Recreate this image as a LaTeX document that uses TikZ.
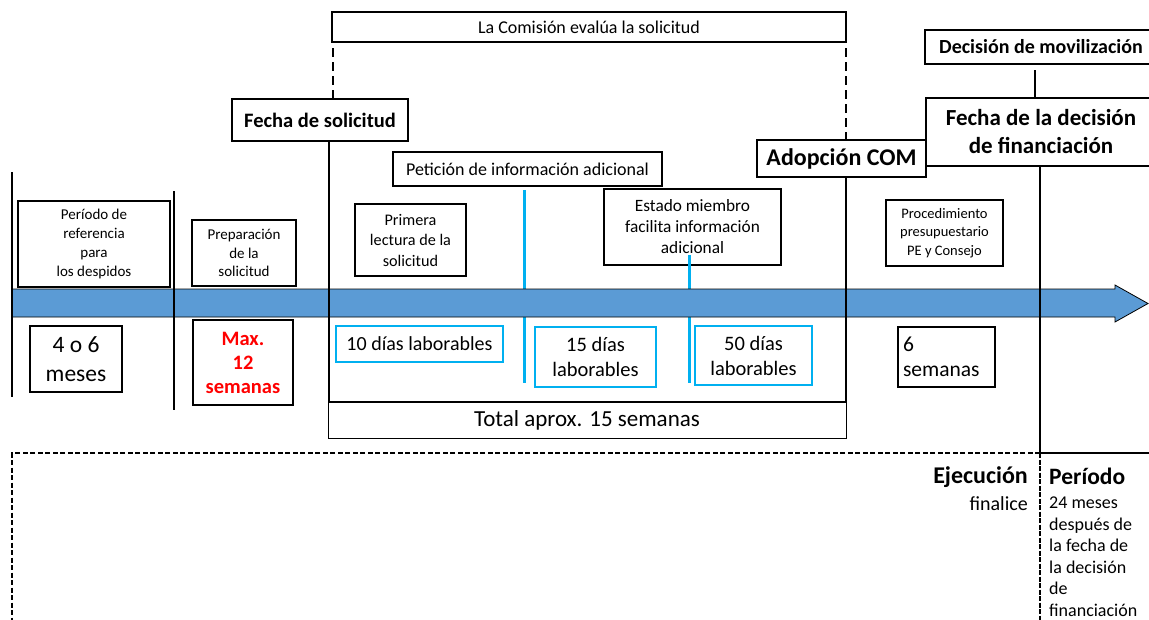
\documentclass[tikz,border=0pt]{standalone}
\usepackage{fontspec}
\setmainfont{Carlito}
\usepackage{xcolor}
\usetikzlibrary{positioning}
\definecolor{bandblue}{RGB}{91,155,213}
\definecolor{infocyan}{RGB}{0,176,240}
\newcommand{\fsz}[2]{\fontsize{#1}{#2}\selectfont}

\begin{document}
\begin{tikzpicture}[x=1pt,y=-1pt,
        every node/.style={inner sep=0pt, align=center},
        box/.style={draw, line width=1.2pt},
        cbox/.style={draw=infocyan, line width=1.4pt},
        thickbar/.style={line width=2.6pt},
        cyanbar/.style={infocyan, line width=3pt}]

        \useasboundingbox (0,0) rectangle (1149,619);

        % top: assessment by the Commission
        \node[box, minimum width=514, minimum height=30, font=\fsz{18}{21}] (com) at (589,27) {La Comisión evalúa la solicitud};
        \node[box, minimum width=176, minimum height=42, font=\bfseries\fsz{20.5}{24}] (fsol) at (320,120) {Fecha de solicitud};
        \node[box, minimum width=269, minimum height=34, font=\fsz{18}{21}] (pet) at (527.5,169) {Petición de información adicional};
        \node[box, minimum width=169, minimum height=37, font=\bfseries\fsz{24}{28}] (adop) at (841.5,158.5) {Adopción COM};
        \node[box, minimum width=232, minimum height=34, font=\bfseries\fsz{20}{24}] (mov) at (1041,47) {Decisión de movilización};
        \node[box, minimum width=230, minimum height=68, font=\bfseries\fsz{23}{28}] (fdec) at (1041,132) {Fecha de la decisión\\de financiación};

        % boxes above the time line
        \node[box, minimum width=152, minimum height=86, font=\fsz{15}{18.7}] (ref) at (94,244) {Período de\\referencia\\para\\los despidos};
        \node[box, minimum width=104, minimum height=66, font=\fsz{15}{18.5}] (prep) at (244,253) {Preparación\\de la\\solicitud};
        \node[box, minimum width=111, minimum height=72, font=\fsz{16.2}{20.5}] (prim) at (410.5,240) {Primera\\lectura de la\\solicitud};
        \node[box, minimum width=177, minimum height=76, font=\fsz{17.3}{21}] (est) at (692.5,227) {Estado miembro\\facilita información\\adicional};
        \node[box, minimum width=117, minimum height=66, font=\fsz{14.5}{18.5}] (proc) at (944.5,233) {Procedimiento\\presupuestario\\PE y Consejo};

        % durations below the time line
        \node[box, minimum width=92, minimum height=66, font=\fsz{23.5}{29}] (mes) at (76,359) {4 o 6\\meses};
        \node[box, minimum width=100, minimum height=85, font=\bfseries\fsz{20.5}{24}, text=red] (max) at (243,362.5) {Max.\\12\\semanas};
        \node[cbox, minimum width=167, minimum height=36, font=\fsz{20}{24}] (d10) at (419.5,344) {10 días laborables};
        \node[cbox, minimum width=121, minimum height=60, font=\fsz{20.5}{25}] (d15) at (595.5,357) {15 días\\laborables};
        \node[cbox, minimum width=117, minimum height=59, font=\fsz{20.5}{25}] (d50) at (753.5,355.5) {50 días\\laborables};
        \node[box, minimum width=97, minimum height=60, font=\fsz{21.5}{25}, align=left, text width=87] (sem) at (946.5,357) {6\\semanas};
        \node[box, line width=1pt, minimum width=518, minimum height=36, font=\fsz{23}{27}] (tot) at (587,420) {Total aprox. 15 semanas};

        % implementation period
        \node[anchor=east, font=\bfseries\fsz{24}{28}] (ejec) at (1028,477) {Ejecución};
        \node[below=27pt of ejec.east, anchor=east, font=\fsz{20}{23}] (fin) {finalice};
        \node[anchor=west, font=\bfseries\fsz{23.5}{27}] (per) at (1049,476) {Período};
        \node[below=12pt of per.south west, anchor=north west, align=left, font=\fsz{18}{21.6}] (perdet) {24 meses\\después de\\la fecha de\\la decisión\\de\\financiación};

        \coordinate (c1a) at (524,190);
        \coordinate (c1b) at (524,383);
        \coordinate (c2a) at (689,255);
        \coordinate (c2b) at (689,383);
        \coordinate (l1a) at (12,172);
        \coordinate (l1b) at (12,397);
        \coordinate (l2a) at (174,191);
        \coordinate (l2b) at (174,410);
        \coordinate (bl) at (329,402);
        \coordinate (br) at (846,402);
        \coordinate (dl) at (333,48);
        \coordinate (dr) at (846,48);
        \coordinate (mv) at (1035,70);
        \coordinate (fd) at (1040,453);
        \coordinate (fe) at (1152,453);
        \coordinate (fb) at (1040,622);
        \coordinate (el) at (12,453);
        \coordinate (eb) at (12,622);

        \draw[cyanbar] (c1a) -- (c1b);
        \draw[cyanbar] (c2a) -- (c2b);

        % time line
        \draw[fill=bandblue, line width=0.8pt] (12,289) -- (1115,289) -- (1115,285) -- (1148,303.5)
          -- (1115,322) -- (1115,317) -- (12,317) -- cycle;

        \draw[thickbar] (l1a) -- (l1b);
        \draw[thickbar] (l2a) -- (l2b);
        \draw[thickbar] (fsol.south -| bl) -- (bl) -- (br) -- (adop.south -| br);
        \draw[thickbar, dash pattern=on 9pt off 5pt] (dl) -- (fsol.north -| dl);
        \draw[thickbar, dash pattern=on 9pt off 5pt] (dr) -- (adop.north -| dr);
        \draw[thickbar] (mv) -- (fdec.north -| mv);
        \draw[thickbar] (fdec.south -| fd) -- (fd) -- (fe);
        \draw[thickbar, dash pattern=on 5pt off 1.5pt] (fd) -- (fb);
        \draw[line width=1.4pt, dash pattern=on 5pt off 2.5pt] (fd) -- (el) -- (eb);

      \end{tikzpicture}
\end{document}
